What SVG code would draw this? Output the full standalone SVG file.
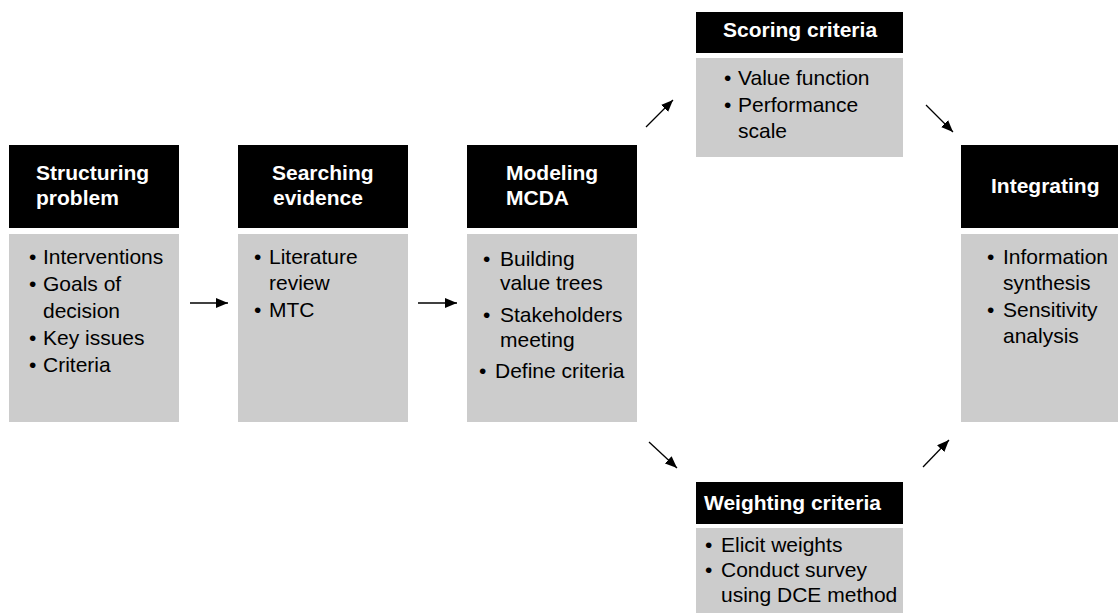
<svg xmlns="http://www.w3.org/2000/svg" width="1118" height="613" viewBox="0 0 1118 613">
<style>
  .hd { fill: #000000; }
  .bd { fill: #cccccc; }
  .ht { font-family: "Liberation Sans", Arial, sans-serif; font-size: 21px; font-weight: bold; fill: #ffffff; }
  .bt { font-family: "Liberation Sans", Arial, sans-serif; font-size: 21px; fill: #000000; }
  .arr { stroke: #000000; stroke-width: 1.3; fill: none; marker-end: url(#ah); }
</style>
<defs>
  <marker id="ah" markerUnits="userSpaceOnUse" markerWidth="12" markerHeight="10" refX="12" refY="5" orient="auto">
    <path d="M0,0 L12,5 L0,10 Z" fill="#000000"/>
  </marker>
</defs>
<rect width="1118" height="613" fill="#ffffff"/>

<g id="structuring">
  <rect class="hd" x="9" y="145" width="170" height="83"/>
  <text class="ht" x="36" y="180">Structuring</text>
  <text class="ht" x="36" y="205">problem</text>
  <rect class="bd" x="9" y="234" width="170" height="188"/>
  <text class="bt" x="29" y="264">•</text><text class="bt" x="43" y="264">Interventions</text>
  <text class="bt" x="29" y="291">•</text><text class="bt" x="43" y="291">Goals of</text>
  <text class="bt" x="43" y="318">decision</text>
  <text class="bt" x="29" y="345">•</text><text class="bt" x="43" y="345">Key issues</text>
  <text class="bt" x="29" y="372">•</text><text class="bt" x="43" y="372">Criteria</text>
</g>

<g id="searching">
  <rect class="hd" x="238" y="145" width="170" height="83"/>
  <text class="ht" x="272" y="180">Searching</text>
  <text class="ht" x="273" y="205">evidence</text>
  <rect class="bd" x="238" y="234" width="170" height="188"/>
  <text class="bt" x="254" y="264">•</text><text class="bt" x="269" y="264">Literature</text>
  <text class="bt" x="269" y="290">review</text>
  <text class="bt" x="254" y="317">•</text><text class="bt" x="269" y="317">MTC</text>
</g>

<g id="modeling">
  <rect class="hd" x="467" y="145" width="170" height="83"/>
  <text class="ht" x="506" y="180">Modeling</text>
  <text class="ht" x="506" y="205">MCDA</text>
  <rect class="bd" x="467" y="234" width="170" height="188"/>
  <text class="bt" x="483" y="266">•</text><text class="bt" x="500" y="266">Building</text>
  <text class="bt" x="500" y="290">value trees</text>
  <text class="bt" x="483" y="322">•</text><text class="bt" x="500" y="322">Stakeholders</text>
  <text class="bt" x="500" y="347">meeting</text>
  <text class="bt" x="479" y="378">•</text><text class="bt" x="495" y="378">Define criteria</text>
</g>

<g id="scoring">
  <rect class="hd" x="696" y="12" width="207" height="41"/>
  <text class="ht" x="723" y="37">Scoring criteria</text>
  <rect class="bd" x="696" y="58" width="207" height="99"/>
  <text class="bt" x="724" y="85">•</text><text class="bt" x="738" y="85">Value function</text>
  <text class="bt" x="724" y="112">•</text><text class="bt" x="738" y="112">Performance</text>
  <text class="bt" x="738" y="138">scale</text>
</g>

<g id="weighting">
  <rect class="hd" x="696" y="482" width="207" height="42"/>
  <text class="ht" x="704" y="510">Weighting criteria</text>
  <rect class="bd" x="696" y="528" width="207" height="85"/>
  <text class="bt" x="705" y="552">•</text><text class="bt" x="721" y="552">Elicit weights</text>
  <text class="bt" x="705" y="577">•</text><text class="bt" x="721" y="577">Conduct survey</text>
  <text class="bt" x="721" y="602">using DCE method</text>
</g>

<g id="integrating">
  <rect class="hd" x="961" y="145" width="157" height="83"/>
  <text class="ht" x="991" y="193">Integrating</text>
  <rect class="bd" x="961" y="234" width="157" height="188"/>
  <text class="bt" x="987" y="264">•</text><text class="bt" x="1003" y="264">Information</text>
  <text class="bt" x="1003" y="290">synthesis</text>
  <text class="bt" x="987" y="317">•</text><text class="bt" x="1003" y="317">Sensitivity</text>
  <text class="bt" x="1003" y="343">analysis</text>
</g>

<g id="connectors">
  <line class="arr" x1="190" y1="303" x2="228" y2="303"/>
  <line class="arr" x1="418" y1="303" x2="457" y2="303"/>
  <line class="arr" x1="646" y1="127" x2="673" y2="100"/>
  <line class="arr" x1="926" y1="105" x2="953" y2="132"/>
  <line class="arr" x1="649" y1="442" x2="677" y2="468"/>
  <line class="arr" x1="923" y1="467" x2="949" y2="440"/>
</g>
</svg>
